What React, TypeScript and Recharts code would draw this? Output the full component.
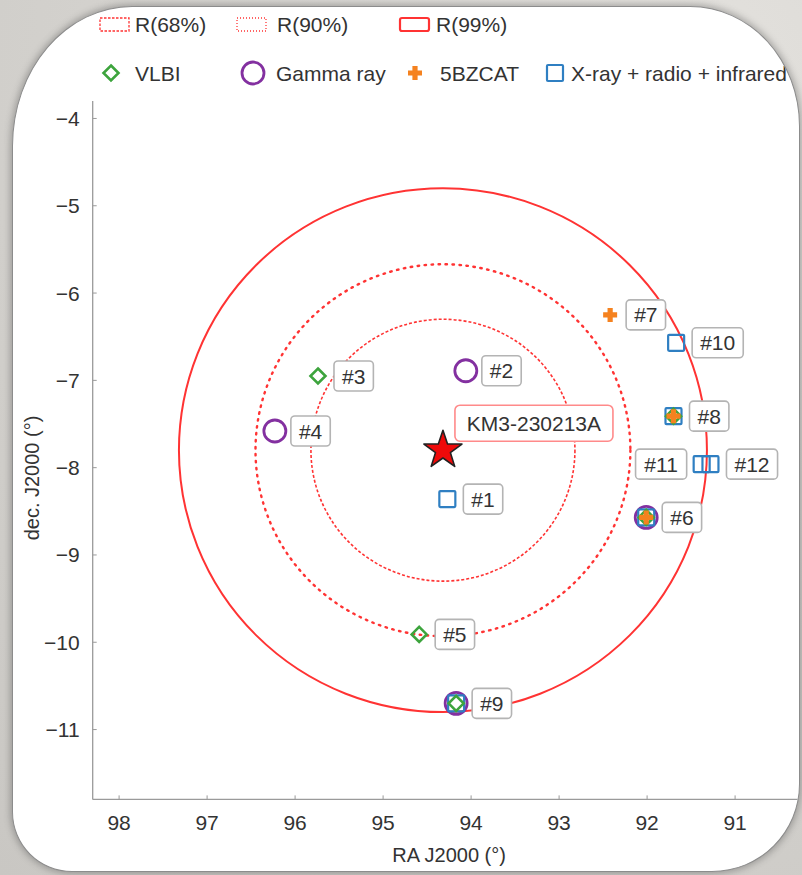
import React from "react";
import { ScatterChart, Scatter, XAxis, YAxis, ReferenceArea, Label } from "recharts";

// candidate sources around the event
const sourceIds = ["#1", "#2", "#3", "#4", "#5", "#6", "#7", "#8", "#9", "#10", "#11", "#12"];
const sourceRa = [94.27, 94.06, 95.74, 96.23, 94.59, 92.01, 92.42, 91.7, 94.17, 91.67, 91.38, 91.28];
const sourceDec = [-8.36, -6.89, -6.95, -7.58, -9.91, -8.57, -6.25, -7.41, -10.7, -6.57, -7.96, -7.96];

// catalogue membership
const vlbiIds = ["#3", "#5", "#6", "#8", "#9"];
const gammaIds = ["#2", "#4", "#6", "#9"];
const bzcatIds = ["#6", "#7", "#8"];
const xrayIds = ["#1", "#6", "#8", "#9", "#10", "#11", "#12"];

const eventName = "KM3-230213A";
const eventRa = 94.32;
const eventDec = -7.8;

const regionNames = ["R(68%)", "R(90%)", "R(99%)"];
const regionRadii = [1.5, 2.13, 3.0];

const raTicks = [98, 97, 96, 95, 94, 93, 92, 91];
const decTicks = [-11, -10, -9, -8, -7, -6, -5, -4];

const RED = "#ff3333";
const GREEN = "#3da43d";
const PURPLE = "#8330a0";
const ORANGE = "#f5821f";
const BLUE = "#2f7fc2";
const TEXT = "#333";
const FONT = "'Liberation Sans', Arial, Helvetica, sans-serif";

const regionDash = ["3 2", "1.5 5.5", undefined];
const regionWidth = [1.6, 2.4, 2];

const sources = sourceIds.map((id, i) => ({ id, ra: sourceRa[i], dec: sourceDec[i] }));
const pick = (ids: string[]) => sources.filter((s) => ids.includes(s.id));
const leftLabeled = ["#11"];

const minus = (v: number) => (v < 0 ? "\u2212" + Math.abs(v) : String(v));

const Diamond = ({ cx, cy }: any) => (
  <path
    d={`M${cx},${cy - 7.5}L${cx + 7.5},${cy}L${cx},${cy + 7.5}L${cx - 7.5},${cy}Z`}
    fill="none"
    stroke={GREEN}
    strokeWidth={2.6}
  />
);
const Ring = ({ cx, cy }: any) => (
  <circle cx={cx} cy={cy} r={11} fill="none" stroke={PURPLE} strokeWidth={2.8} />
);
const Square = ({ cx, cy }: any) => (
  <rect x={cx - 8} y={cy - 8} width={16} height={16} fill="none" stroke={BLUE} strokeWidth={2.2} rx={1} />
);
const Plus = ({ cx, cy }: any) => (
  <path
    d={`M${cx - 2.6},${cy - 7}h5.2v4.4h4.4v5.2h-4.4v4.4h-5.2v-4.4h-4.4v-5.2h4.4Z`}
    fill={ORANGE}
  />
);

const Star = ({ cx, cy }: any) => {
  const pts: string[] = [];
  for (let k = 0; k < 10; k++) {
    const r = k % 2 === 0 ? 20 : 7.8;
    const a = -Math.PI / 2 + (k * Math.PI) / 5;
    pts.push(`${cx + r * Math.cos(a)},${cy + r * Math.sin(a)}`);
  }
  return (
    <g>
      <polygon points={pts.join(" ")} fill="#ee0a0a" stroke="#222" strokeWidth={1.6} strokeLinejoin="round" />
      <rect x={cx + 12} y={cy - 45} width={158} height={36} rx={5} fill="#fff" stroke="#ff8a8a" strokeWidth={1.6} />
      <text x={cx + 91} y={cy - 27} dy="0.36em" textAnchor="middle" fontSize={21} fill={TEXT} fontFamily={FONT}>
        {eventName}
      </text>
    </g>
  );
};

const SourceLabel = ({ cx, cy, payload }: any) => {
  const txt = payload.id;
  const w = txt.length * 11.7 + 16;
  const x = leftLabeled.includes(txt) ? cx - 15 - w : cx + 16;
  return (
    <g>
      <rect x={x} y={cy - 15} width={w} height={30} rx={4} fill="#fff" stroke="#b4b4b4" strokeWidth={1.6} />
      <text x={x + w / 2} y={cy} dy="0.36em" textAnchor="middle" fontSize={21} fill={TEXT} fontFamily={FONT}>
        {txt}
      </text>
    </g>
  );
};

const Legend = () => (
  <svg width={802} height={100} style={{ position: "absolute", left: -12, top: -6 }} fontFamily={FONT}>
    {regionNames.map((n, i) => {
      const x = [99, 236, 399][i];
      return (
        <g key={n}>
          <rect x={x} y={17} width={29} height={13} rx={i === 2 ? 2 : 0} fill="none" stroke={RED}
            strokeWidth={i === 2 ? 2.2 : 1.3} strokeDasharray={["2.5 1.5", "1 2", undefined][i]} />
          <text x={[134, 276, 435][i]} y={23} dy="0.36em" fontSize={21} fill={TEXT}>{n}</text>
        </g>
      );
    })}
    <Diamond cx={110} cy={72} />
    <text x={134} y={72} dy="0.36em" fontSize={21} fill={TEXT}>VLBI</text>
    <Ring cx={252} cy={72} />
    <text x={275} y={72} dy="0.36em" fontSize={21} fill={TEXT}>Gamma ray</text>
    <Plus cx={414} cy={72} />
    <text x={439} y={72} dy="0.36em" fontSize={21} fill={TEXT}>5BZCAT</text>
    <Square cx={554} cy={72} />
    <text x={570} y={72} dy="0.36em" fontSize={21} fill={TEXT}>X-ray + radio + infrared</text>
  </svg>
);

const DecTitle = ({ viewBox }: any) => (
  <text
    transform={`translate(${viewBox.x - 0.7},478) rotate(-90)`}
    textAnchor="middle"
    dy="0.36em"
    fontSize={20}
    fill={TEXT}
    fontFamily={FONT}
  >
    dec. J2000 (°)
  </text>
);

export default function App() {
  return (
    <div
      style={{
        position: "absolute",
        left: 0,
        top: 0,
        width: 802,
        height: 875,
        overflow: "hidden",
        background: "radial-gradient(circle at 85% 10%, #e4e2de 0%, #d6d4d0 45%, #c9c7c3 100%)",
      }}
    >
      <div
        style={{
          position: "absolute",
          left: 12,
          top: 6,
          width: 786,
          height: 864,
          background: "#fff",
          border: "1px solid #8c8c8c",
          borderRadius: "120px 110px 88px 60px / 140px 120px 88px 60px",
          boxShadow: "0 0 6px 2px rgba(70,70,70,0.35)",
          overflow: "hidden",
        }}
      >
        <Legend />
        <div style={{ position: "absolute", left: -13, top: -7 }}>
          <ScatterChart
            width={830}
            height={875}
            margin={{ top: 101, right: 24.5, bottom: 45.6, left: 32.7 }}
            style={{ fontFamily: FONT }}
          >
            <XAxis
              type="number"
              dataKey="ra"
              domain={[90.2, 98.3]}
              reversed
              allowDataOverflow
              ticks={raTicks}
              tickSize={-4}
              tickMargin={20}
              axisLine={{ stroke: "#9a9a9a", strokeWidth: 1.3 }}
              tickLine={{ stroke: "#9a9a9a" }}
              tick={{ fontSize: 21, fill: TEXT }}
            >
              <Label value="RA J2000 (°)" position="bottom" offset={18} fontSize={20} fill={TEXT} />
            </XAxis>
            <YAxis
              type="number"
              dataKey="dec"
              domain={[-11.8, -3.8]}
              allowDataOverflow
              ticks={decTicks}
              tickSize={-4}
              tickMargin={17}
              tickFormatter={minus}
              axisLine={{ stroke: "#9a9a9a", strokeWidth: 1.3 }}
              tickLine={{ stroke: "#9a9a9a" }}
              tick={{ fontSize: 21, fill: TEXT }}
            >
              <Label content={<DecTitle />} />
            </YAxis>
            {regionRadii.map((r, i) => (
              <ReferenceArea
                key={regionNames[i]}
                x1={eventRa - r}
                x2={eventRa + r}
                y1={eventDec - r}
                y2={eventDec + r}
                ifOverflow="visible"
                shape={(p: any) => (
                  <ellipse
                    cx={p.x + p.width / 2}
                    cy={p.y + p.height / 2}
                    rx={p.width / 2}
                    ry={p.height / 2}
                    fill="none"
                    stroke={RED}
                    strokeWidth={regionWidth[i]}
                    strokeDasharray={regionDash[i]}
                    strokeLinecap={i === 1 ? "round" : "butt"}
                  />
                )}
              />
            ))}
            <Scatter name="Gamma ray" data={pick(gammaIds)} shape={<Ring />} isAnimationActive={false} />
            <Scatter name="X-ray + radio + infrared" data={pick(xrayIds)} shape={<Square />} isAnimationActive={false} />
            <Scatter name="VLBI" data={pick(vlbiIds)} shape={<Diamond />} isAnimationActive={false} />
            <Scatter name="5BZCAT" data={pick(bzcatIds)} shape={<Plus />} isAnimationActive={false} />
            <Scatter name="labels" data={sources} shape={<SourceLabel />} isAnimationActive={false} />
            <Scatter name={eventName} data={[{ ra: eventRa, dec: eventDec }]} shape={<Star />} isAnimationActive={false} />
          </ScatterChart>
        </div>
      </div>
    </div>
  );
}
